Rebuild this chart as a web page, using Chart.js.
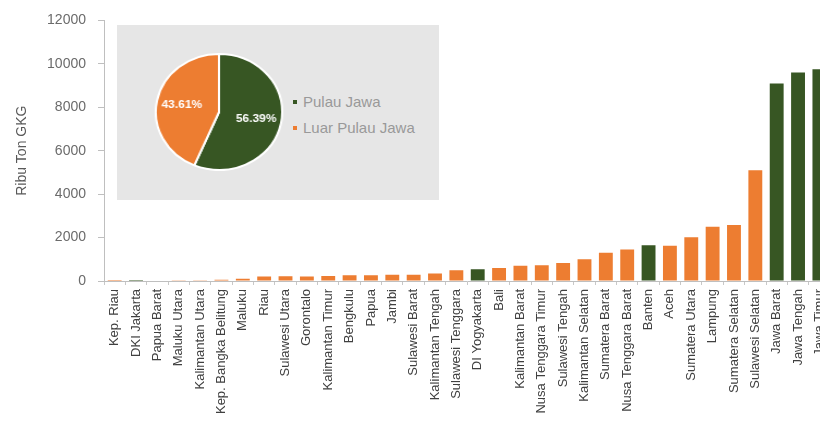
<!DOCTYPE html>
<html><head><meta charset="utf-8">
<script src="https://cdn.jsdelivr.net/npm/chart.js@4"></script>
<style>
html,body{margin:0;padding:0;background:#fff;overflow:hidden;}
#wrap{position:relative;width:820px;height:430px;overflow:hidden;}
#barBox{position:absolute;left:0;top:0;width:839px;height:430px;}
#inset{position:absolute;left:117px;top:25px;width:322px;height:175px;background:#E6E6E6;}
#pieBox{position:absolute;left:43px;top:28px;width:118px;height:118px;transform:scaleX(1.09);transform-origin:center center;}
#legend{position:absolute;left:176px;top:67px;font-family:'Liberation Sans',Arial,sans-serif;font-size:15px;color:#999999;}
#legend div{height:26px;line-height:20px;white-space:nowrap;}
#legend span.b{display:inline-block;width:4px;height:4px;margin-right:6px;vertical-align:middle;position:relative;top:-1px;}
</style></head>
<body>
<div id="wrap">
  <div id="barBox"><canvas id="bar"></canvas></div>
  <div id="inset">
    <div id="pieBox"><canvas id="pie"></canvas></div>
    <div id="legend"></div>
  </div>
</div>
<script>
const provinces = ['Kep. Riau','DKI Jakarta','Papua Barat','Maluku Utara','Kalimantan Utara','Kep. Bangka Belitung','Maluku','Riau','Sulawesi Utara','Gorontalo','Kalimantan Timur','Bengkulu','Papua','Jambi','Sulawesi Barat','Kalimantan Tengah','Sulawesi Tenggara','DI Yogyakarta','Bali','Kalimantan Barat','Nusa Tenggara Timur','Sulawesi Tengah','Kalimantan Selatan','Sumatera Barat','Nusa Tenggara Barat','Banten','Aceh','Sumatera Utara','Lampung','Sumatera Selatan','Sulawesi Selatan','Jawa Barat','Jawa Tengah','Jawa Timur'];
const production = [1,5,25,30,30,60,100,210,220,210,230,260,260,290,290,350,500,540,600,700,730,830,1000,1300,1450,1650,1620,2020,2500,2580,5100,9100,9600,9750];
const javaProvinces = ['DKI Jakarta','Jawa Barat','Jawa Tengah','DI Yogyakarta','Jawa Timur','Banten'];
const yTicks = [0,2000,4000,6000,8000,10000,12000];
const pieLabels = ['Pulau Jawa','Luar Pulau Jawa'];
const pieValues = [56.39,43.61];

const GREEN = '#375623', ORANGE = '#ED7D31';
const pieColors = [GREEN, ORANGE];
const FONT = "'Liberation Sans', Arial, sans-serif";

new Chart(document.getElementById('bar'), {
  type:'bar',
  data:{labels:provinces, datasets:[{data:production,
    backgroundColor: provinces.map(p => javaProvinces.includes(p) ? GREEN : ORANGE),
    barPercentage:0.65, categoryPercentage:1}]},
  options:{
    responsive:true, maintainAspectRatio:false, animation:false,
    layout:{padding:{top:9,right:0,left:0,bottom:0}},
    plugins:{legend:{display:false}, tooltip:{enabled:false}},
    scales:{
      x:{
        grid:{display:true, drawOnChartArea:false, tickLength:4, color:'#C8C8C8', offset:true},
        border:{color:'#BFBFBF'},
        ticks:{autoSkip:false, minRotation:90, maxRotation:90, font:{family:FONT, size:13}, color:'#404040', padding:4},
        afterFit(s){ s.height = 149; }
      },
      y:{
        min:0, max:12000,
        afterBuildTicks(s){ s.ticks = yTicks.map(v => ({value:v})); },
        ticks:{font:{family:FONT, size:14}, color:'#6b6b6b', padding:12, callback:v => String(v)},
        grid:{display:true, drawOnChartArea:false, tickLength:6, color:'#BFBFBF'},
        border:{color:'#BFBFBF'},
        title:{display:true, text:'Ribu Ton GKG', font:{family:FONT, size:14}, color:'#595959', padding:{top:14,bottom:0}},
        afterFit(s){ s.width = 104; }
      }
    }
  }
});

const pieLabelPlugin = {
  id:'pieLabels',
  afterDatasetsDraw(chart){
    const ctx = chart.ctx;
    const meta = chart.getDatasetMeta(0);
    ctx.save();
    ctx.font = "bold 11px " + FONT;
    ctx.fillStyle = '#ffffff';
    ctx.textAlign = 'center';
    ctx.textBaseline = 'middle';
    meta.data.forEach((arc, i) => {
      const a = (arc.startAngle + arc.endAngle) / 2;
      const r = arc.outerRadius * 0.6;
      ctx.fillText(pieValues[i].toFixed(2) + '%', arc.x + Math.cos(a) * r, arc.y + Math.sin(a) * r);
    });
    ctx.restore();
  }
};

new Chart(document.getElementById('pie'), {
  type:'pie',
  data:{labels:pieLabels, datasets:[{data:pieValues, backgroundColor:pieColors, borderColor:'#ffffff', borderWidth:2}]},
  options:{responsive:true, maintainAspectRatio:false, animation:false,
    layout:{padding:0},
    plugins:{legend:{display:false}, tooltip:{enabled:false}}},
  plugins:[pieLabelPlugin]
});

const legend = document.getElementById('legend');
pieLabels.forEach((l, i) => {
  const d = document.createElement('div');
  const b = document.createElement('span');
  b.className = 'b'; b.style.background = pieColors[i];
  d.appendChild(b);
  d.appendChild(document.createTextNode(l));
  legend.appendChild(d);
});
</script>
</body></html>
